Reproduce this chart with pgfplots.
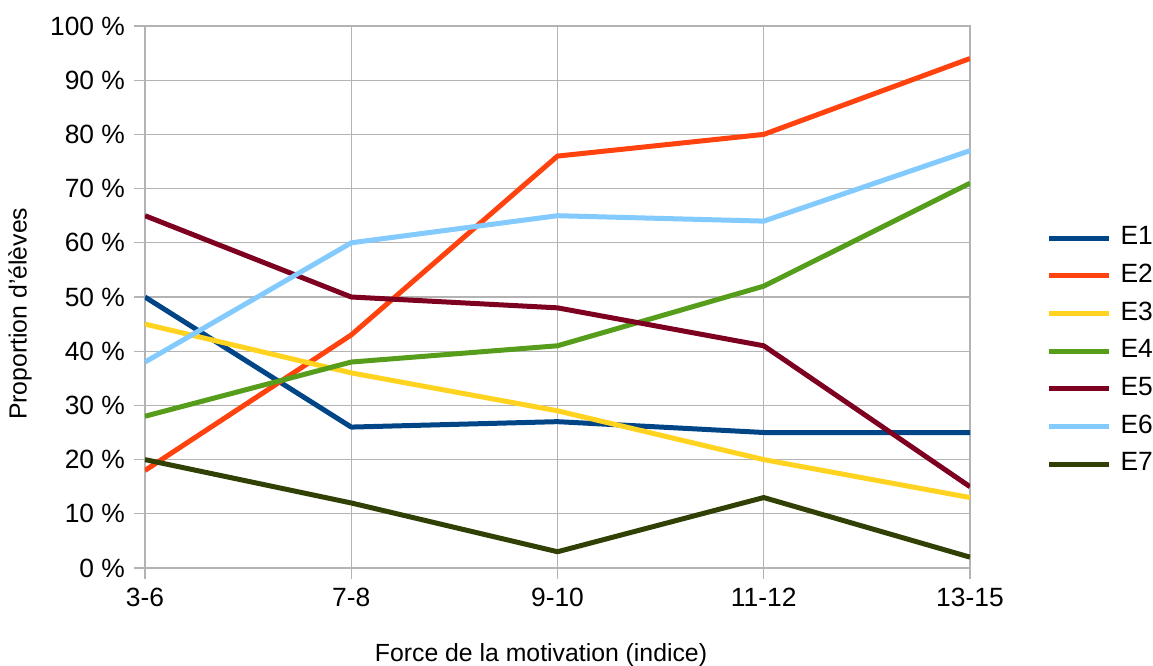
\documentclass[border=0pt]{standalone}
\usepackage{fontspec}
\setmainfont{Liberation Sans}
\usepackage{pgfplots}
\pgfplotsset{compat=1.18}

\definecolor{cE1}{HTML}{004586}
\definecolor{cE2}{HTML}{FF420E}
\definecolor{cE3}{HTML}{FFD320}
\definecolor{cE4}{HTML}{579D1C}
\definecolor{cE5}{HTML}{7E0021}
\definecolor{cE6}{HTML}{83CAFF}
\definecolor{cE7}{HTML}{314004}
\definecolor{gridgray}{HTML}{B3B3B3}

\begin{document}
\begin{tikzpicture}
% 1 px of the reference = 0.5pt
\useasboundingbox (-72.5pt,-48.5pt) rectangle (504pt,284pt);
\begin{axis}[
    at={(0pt,0pt)}, anchor=south west,
    scale only axis,
    width=412.5pt, height=271pt,
    xmin=0, xmax=4, ymin=0, ymax=100,
    xtick={0,1,2,3,4},
    xticklabels={3-6,7-8,9-10,11-12,13-15},
    ytick={0,10,...,100},
    yticklabels={0~\%,10~\%,20~\%,30~\%,40~\%,50~\%,60~\%,70~\%,80~\%,90~\%,100~\%},
    xtick pos=bottom, ytick pos=left,
    tick align=outside,
    major tick length=5.5pt,
    tick style={gridgray, line width=0.6pt},
    grid=major,
    major grid style={gridgray, line width=0.6pt},
    axis line style={gridgray, line width=0.6pt},
    tick label style={font=\fontsize{13.2}{15}\selectfont},
    xticklabel style={yshift=-1pt},
    yticklabel style={xshift=-1pt},
    xlabel={Force de la motivation (indice)},
    ylabel={Proportion d'élèves},
    every axis x label/.style={at={(axis description cs:0.48,-0.1605)}, anchor=center,
        font=\fontsize{12.4}{15}\selectfont},
    every axis y label/.style={at={(axis description cs:-0.1515,0.469)}, rotate=90, anchor=center,
        font=\fontsize{12.4}{15}\selectfont},
    legend style={
        at={(axis description cs:1.085,0.40)}, anchor=west,
        draw=none, fill=none,
        font=\fontsize{13.2}{15}\selectfont,
        row sep=8.35pt,
        nodes={text height=8.5pt, text depth=2pt, inner sep=0pt, anchor=west},
    },
    legend cell align=left,
    legend image code/.code={\draw[#1, line width=2.5pt] (0pt,0pt) -- (30pt,0pt);},
    every axis plot/.append style={line width=2.5pt, line join=round, mark=none},
]
\addplot[cE1] coordinates {(0,50) (1,26) (2,27) (3,25) (4,25)};
\addlegendentry{\hspace{4.5pt}E1}
\addplot[cE2] coordinates {(0,18) (1,43) (2,76) (3,80) (4,94)};
\addlegendentry{\hspace{4.5pt}E2}
\addplot[cE3] coordinates {(0,45) (1,36) (2,29) (3,20) (4,13)};
\addlegendentry{\hspace{4.5pt}E3}
\addplot[cE4] coordinates {(0,28) (1,38) (2,41) (3,52) (4,71)};
\addlegendentry{\hspace{4.5pt}E4}
\addplot[cE5] coordinates {(0,65) (1,50) (2,48) (3,41) (4,15)};
\addlegendentry{\hspace{4.5pt}E5}
\addplot[cE6] coordinates {(0,38) (1,60) (2,65) (3,64) (4,77)};
\addlegendentry{\hspace{4.5pt}E6}
\addplot[cE7] coordinates {(0,20) (1,12) (2,3) (3,13) (4,2)};
\addlegendentry{\hspace{4.5pt}E7}
\end{axis}
\end{tikzpicture}
\end{document}
